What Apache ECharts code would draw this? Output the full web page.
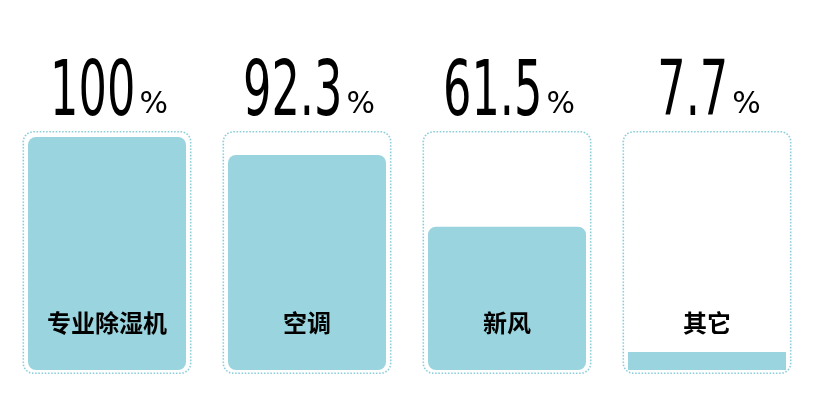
<!DOCTYPE html>
<html lang="zh">
<head>
    <meta charset="UTF-8">
    <title>占比</title>
    <script src="https://cdnjs.cloudflare.com/ajax/libs/echarts/6.0.0/echarts.min.js"></script>
    <style>
        html, body { margin: 0; padding: 0; background: #fff; }
        #box { width: 830px; height: 415px; }
    </style>
</head>
<body>
<div id="box"></div>
<script>
    // 数据
    var categories = ['专业除湿机', '空调', '新风', '其它'];
    var values = [100, 92.3, 61.5, 7.7];
    var fullValues = [100, 100, 100, 100];

    var mainColor = '#9AD4DE';
    var numFont = '77px "DejaVu Sans Condensed"';
    var pctFont = '30px "DejaVu Sans"';
    var numScale = 0.645;

    var chartDom = document.getElementById('box');
    var myChart = echarts.init(chartDom);

    // 柱子, 太矮的就不要圆角了
    var barData = values.map(function (v) {
        return { value: v, itemStyle: { borderRadius: v < 15 ? 0 : 8 } };
    });

    var option = {
        animation: false,
        grid: [
            { left: 7, right: 23, top: 137, bottom: 45 },
            { left: 7, right: 23, top: 131, bottom: 41 }
        ],
        xAxis: [
            {
                type: 'category',
                gridIndex: 0,
                data: categories,
                axisLine: { show: false },
                axisTick: { show: false },
                axisLabel: {
                    inside: true,
                    margin: 35,
                    color: '#000',
                    fontSize: 24,
                    fontWeight: 'bold',
                    fontFamily: 'Noto Sans CJK SC'
                },
                z: 10
            },
            {
                type: 'category',
                gridIndex: 1,
                data: categories,
                show: false
            }
        ],
        yAxis: [
            { type: 'value', gridIndex: 0, min: 0, max: 100, show: false },
            { type: 'value', gridIndex: 1, min: 0, max: 100, show: false }
        ],
        series: [
            {
                name: 'frame',
                type: 'bar',
                xAxisIndex: 1,
                yAxisIndex: 1,
                barWidth: 169,
                z: 1,
                itemStyle: {
                    color: 'rgba(0,0,0,0)',
                    borderColor: '#8ccfdb',
                    borderWidth: 1.6,
                    borderType: 'dotted',
                    borderRadius: 10
                },
                data: fullValues
            },
            {
                name: 'value',
                type: 'bar',
                xAxisIndex: 0,
                yAxisIndex: 0,
                barWidth: 158,
                z: 2,
                itemStyle: { color: mainColor },
                data: barData
            }
        ]
    };

    option && myChart.setOption(option);

    // 上面的大数字: 字体太宽, 用 graphic 横向压缩
    var ctx = document.createElement('canvas').getContext('2d');
    function textWidth(t, font) {
        ctx.font = font;
        return ctx.measureText(t).width;
    }

    var labels = [];
    values.forEach(function (v, i) {
        var pt = myChart.convertToPixel({ gridIndex: 1 }, [i, fullValues[i]]);
        var num = String(v);
        var nw = textWidth(num, numFont) * numScale;
        var pw = textWidth('%', pctFont);
        var gap = 4;
        var x0 = pt[0] - (nw + gap + pw) / 2 + 2;
        labels.push({
            type: 'text',
            x: x0,
            y: pt[1] + 2,
            scaleX: numScale,
            style: {
                text: num,
                font: numFont,
                fill: '#000',
                textAlign: 'left',
                textVerticalAlign: 'bottom'
            }
        });
        labels.push({
            type: 'text',
            x: x0 + nw + gap,
            y: pt[1] - 11,
            style: {
                text: '%',
                font: pctFont,
                fill: '#000',
                textAlign: 'left',
                textVerticalAlign: 'bottom'
            }
        });
    });

    myChart.setOption({ graphic: labels });
</script>
</body>
</html>
